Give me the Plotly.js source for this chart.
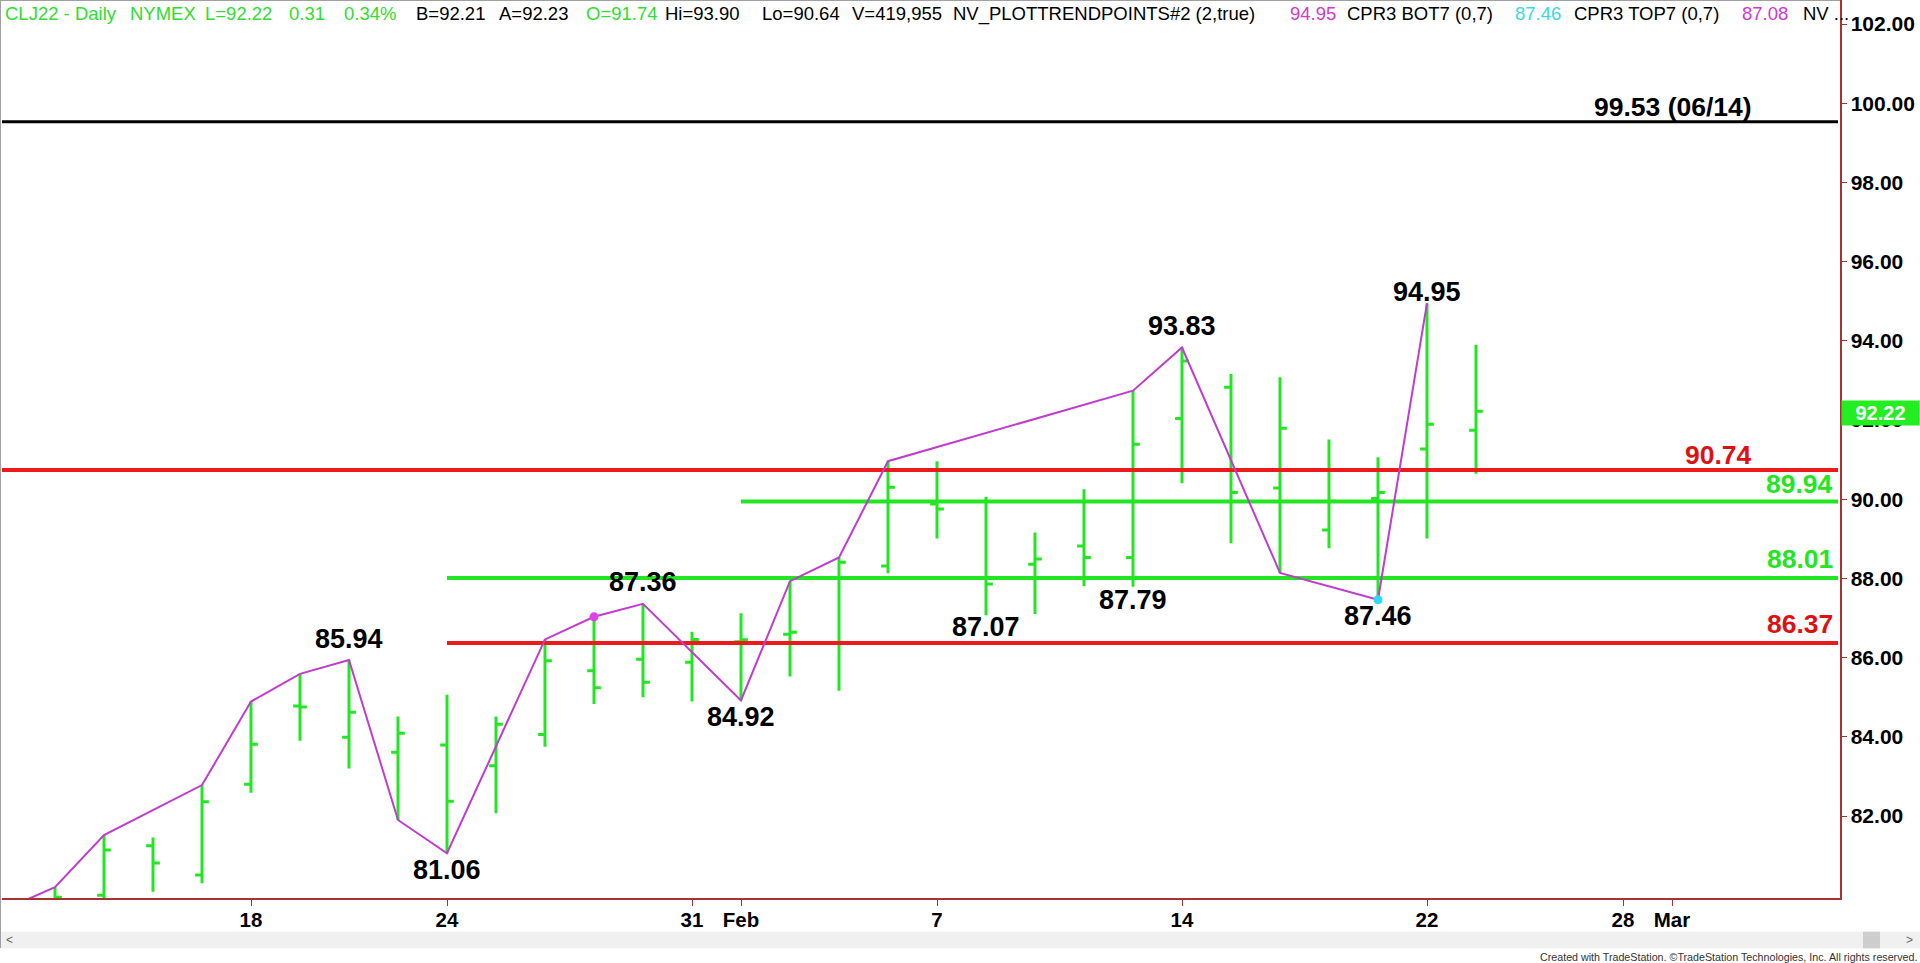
<!DOCTYPE html>
<html>
<head>
<meta charset="utf-8">
<script src="https://cdn.plot.ly/plotly-3.0.1.min.js"></script>
<style>
html,body{margin:0;padding:0;background:#fff;}
#chart{width:1920px;height:963px;}
</style>
</head>
<body>
<div id="chart"></div>
<script>
// ---------------- DATA ----------------
const dates = ['Jan 11','Jan 12','Jan 13','Jan 14','Jan 18','Jan 19','Jan 20','Jan 21','Jan 24','Jan 25',
  'Jan 26','Jan 27','Jan 28','Jan 31','Feb 1','Feb 2','Feb 3','Feb 4','Feb 7','Feb 8',
  'Feb 9','Feb 10','Feb 11','Feb 14','Feb 15','Feb 16','Feb 17','Feb 18','Feb 22','Feb 23'];
const opens  = [79.60,80.00,81.25,80.51,82.80,84.78,83.99,83.61,83.79,83.27,
  84.06,85.67,85.96,85.88,86.40,86.59,88.00,88.31,89.88,89.94,
  88.36,88.82,88.53,92.04,92.83,90.28,89.22,90.02,91.27,91.74];
const highs  = [80.20,81.52,81.46,82.78,84.89,85.59,85.94,84.51,85.06,84.51,
  86.46,87.03,87.36,86.65,87.12,87.93,88.53,90.96,90.96,90.06,
  89.16,90.25,92.74,93.83,93.16,93.08,91.51,91.06,94.95,93.90];
const lows   = [79.30,79.88,80.09,80.30,82.59,83.90,83.20,81.90,81.06,82.07,
  83.75,84.83,85.00,84.89,84.92,85.52,85.16,88.13,89.01,87.07,
  87.10,87.81,87.79,90.40,88.89,88.14,88.76,87.46,89.01,90.64];
const closes = [79.95,81.14,80.81,82.36,83.81,84.75,84.62,84.09,82.37,84.32,
  85.92,85.24,85.38,86.46,86.45,86.64,88.41,90.30,89.75,87.86,
  88.49,88.53,91.39,93.49,90.17,91.79,89.95,90.17,91.89,92.22];

// trend-point line (bar index, price); index -1 = Jan 10
const trendIdx = [-1,0,1,3,4,5,6,7,8,10,11,12,14,15,16,17,22,23,25,27,28];
const trendVal = [79.66,80.20,81.52,82.78,84.89,85.59,85.94,81.90,81.06,86.46,87.03,87.36,84.92,87.93,88.53,90.96,92.74,93.83,88.14,87.46,94.95];

// dots on the trend line
const dotIdx = [11,27];
const dotVal = [87.03,87.46];

// swing labels
const swingIdx = [6,8,12,14,19,22,23,27,28];
const swingVal = [85.94,81.06,87.36,84.92,87.07,87.79,93.83,87.46,94.95];

// horizontal levels
const levelVal   = [99.53,90.74,89.94,88.01,86.37];
const levelStart = [null,null,14,8,8];
const levelText  = ['99.53 (06/14)','90.74','89.94','88.01','86.37'];

// axis ticks
const xTickIdx  = [4,8,13,14,18,23,28,32,33];
const xTickText = ['18','24','31','Feb','7','14','22','28','Mar'];
const yTickVals = [82,84,86,88,90,92,94,96,98,100,102];
const lastPrice = 92.22;

// header
const headerParts = [
  ['CLJ22 - Daily','g'],['NYMEX','g'],['L=92.22','g'],['0.31','g'],['0.34%','g'],
  ['B=92.21','k'],['A=92.23','k'],['O=91.74','g'],['Hi=93.90','k'],['Lo=90.64','k'],
  ['V=419,955','k'],['NV_PLOTTRENDPOINTS#2 (2,true)','k'],['94.95','m'],['CPR3 BOT7 (0,7)','k'],
  ['87.46','c'],['CPR3 TOP7 (0,7)','k'],['87.08','m'],['NV\u00a0...','k']
];

// ---------------- STYLE / LAYOUT ----------------
const W = 1920, H = 963;
const ML = 2, MR = 80, MT = 0, MB = 65;
const PW = W - ML - MR, PH = H - MT - MB;
const pxX = p => (p - ML) / PW;
const pxY = p => (PH - (p - MT)) / PH;

const GREEN = '#22e622', RED = '#ec1a1a', MAG = '#c03cd0', AXIS = '#a83232';
const FONT = 'Liberation Sans, Arial, sans-serif';
const headerColors = {g:'#30dd30', k:'#000000', m:'#d038d0', c:'#3cd8e0'};
const headerX = [4,129.3,204,288.3,343.3,415,497.7,585,664,761,851,952,1289,1346,1514,1573,1741,1801.7];
const swingShift = [21,-17,22,-17,-12,-13,22,-16,11];
const levelColor = ['#000000',RED,GREEN,GREEN,RED];
const levelTextColor = ['#000000','#dd1111','#22e622','#22e622','#dd1111'];
const levelWidth = [3,4,4,4,4];
const levelLabelRight = [1753.5,1753.5,1835,1835,1835];
const levelShift = [15,15,18,19,19];

const xr0 = -53/49, xr1 = xr0 + PW/49;
const yr1 = 102 + 24/39.6, yr0 = yr1 - PH/39.6;

const traces = [];
traces.push({
  type:'ohlc', x: dates.map((d,i)=>i), open: opens, high: highs, low: lows, close: closes,
  increasing:{line:{color:GREEN,width:3}}, decreasing:{line:{color:GREEN,width:3}},
  tickwidth:0.14, hoverinfo:'skip', showlegend:false
});
levelVal.forEach((v,i)=>{
  const s = levelStart[i] === null ? xr0 - 1 : levelStart[i];
  traces.push({type:'scatter', mode:'lines', x:[s, xr1 - 0.04], y:[v,v],
    line:{color:levelColor[i], width:levelWidth[i]}, hoverinfo:'skip', showlegend:false});
});
traces.push({type:'scatter', mode:'lines', x: trendIdx, y: trendVal,
  line:{color:MAG, width:2}, hoverinfo:'skip', showlegend:false});
traces.push({type:'scatter', mode:'markers', x: dotIdx, y: dotVal,
  marker:{color:['#e040e8','#30d8f8'], size:9}, hoverinfo:'skip', showlegend:false});

const ann = [];
swingIdx.forEach((xi,i)=>{
  ann.push({x:xi, y:swingVal[i], xref:'x', yref:'y', text: swingVal[i].toFixed(2),
    showarrow:false, xanchor:'center', yanchor:'middle', yshift: swingShift[i],
    font:{family:FONT, size:27, color:'#000', weight:700}});
});
levelVal.forEach((v,i)=>{
  ann.push({x:pxX(levelLabelRight[i]), y:v, xref:'paper', yref:'y', text: levelText[i],
    showarrow:false, xanchor:'right', yanchor:'middle', yshift: levelShift[i],
    font:{family:FONT, size:26.5, color:levelTextColor[i], weight:700}});
});
headerParts.forEach((p,i)=>{
  ann.push({x:pxX(headerX[i]), y:pxY(14), xref:'paper', yref:'paper', text:p[0],
    showarrow:false, xanchor:'left', yanchor:'middle', borderpad:0,
    font:{family:FONT, size:18.5, color:headerColors[p[1]]}});
});
ann.push({x:1, y:lastPrice, xref:'paper', yref:'y', text: lastPrice.toFixed(2),
  showarrow:false, xanchor:'left', yanchor:'middle', xshift:1, yshift:-2,
  width:77, height:24, borderpad:0, bgcolor:'#22ee22', align:'center',
  font:{family:FONT, size:20, color:'#ffffff', weight:700}});
ann.push({x:pxX(1918), y:pxY(956.5), xref:'paper', yref:'paper',
  text:'Created with TradeStation. \u00a9TradeStation Technologies, Inc. All rights reserved.',
  showarrow:false, xanchor:'right', yanchor:'middle', borderpad:0,
  font:{family:'Liberation Sans Narrow, Arial Narrow, Liberation Sans, sans-serif', size:10.7, color:'#333'}});
ann.push({x:pxX(9), y:pxY(940), xref:'paper', yref:'paper', text:'<', showarrow:false,
  xanchor:'center', yanchor:'middle', font:{family:FONT, size:12, color:'#666'}});
ann.push({x:pxX(1909), y:pxY(940), xref:'paper', yref:'paper', text:'>', showarrow:false,
  xanchor:'center', yanchor:'middle', font:{family:FONT, size:12, color:'#666'}});

const shapes = [
  {type:'rect', xref:'paper', yref:'paper', x0:pxX(0), x1:pxX(1920), y0:pxY(948.3), y1:pxY(931.7),
    fillcolor:'#f0f0f0', line:{width:0}, layer:'below'},
  {type:'rect', xref:'paper', yref:'paper', x0:pxX(1863), x1:pxX(1880), y0:pxY(948.3), y1:pxY(931.7),
    fillcolor:'#cdcdcd', line:{width:0}, layer:'below'},
  {type:'line', xref:'paper', yref:'paper', x0:pxX(0.5), x1:pxX(0.5), y0:pxY(0), y1:pxY(948),
    line:{color:'#a0a0a0', width:1}},
  {type:'line', xref:'paper', yref:'paper', x0:pxX(0), x1:pxX(1840), y0:pxY(0.5), y1:pxY(0.5),
    line:{color:'#a0a0a0', width:1}}
];

const layout = {
  width:W, height:H, margin:{l:ML, r:MR, t:MT, b:MB, pad:0},
  paper_bgcolor:'#ffffff', plot_bgcolor:'#ffffff', showlegend:false,
  xaxis:{type:'linear', range:[xr0,xr1], showgrid:false, zeroline:false,
    rangeslider:{visible:false}, tickvals:xTickIdx, ticktext:xTickText,
    ticks:'outside', ticklen:6, tickwidth:1, tickcolor:AXIS, ticklabelstandoff:-3,
    showline:true, linecolor:AXIS, linewidth:1.5,
    tickfont:{family:FONT, size:20.5, color:'#000', weight:700}, fixedrange:true},
  yaxis:{side:'right', range:[yr0,yr1], showgrid:false, zeroline:false,
    tickvals:yTickVals, ticktext:yTickVals.map(v=>v.toFixed(2)),
    ticks:'outside', ticklen:5, tickwidth:1, tickcolor:AXIS,
    showline:true, linecolor:AXIS, linewidth:1.5,
    tickfont:{family:FONT, size:21, color:'#000', weight:700}, fixedrange:true},
  annotations: ann, shapes: shapes
};

Plotly.newPlot('chart', traces, layout, {staticPlot:true, displayModeBar:false});
</script>
</body>
</html>
